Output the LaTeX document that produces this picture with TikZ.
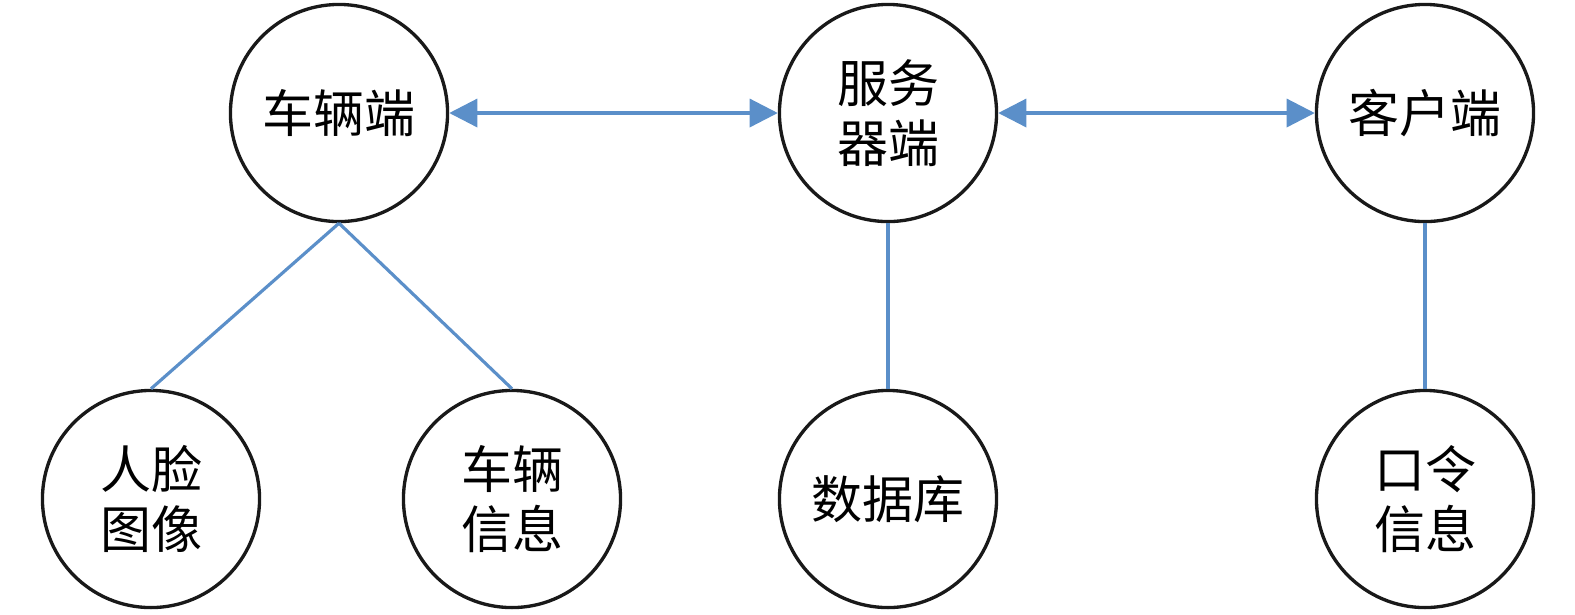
\documentclass[tikz,border=0pt]{standalone}
\usepackage{fontspec}
\newfontfamily\cjk{Noto Sans CJK SC}
\usetikzlibrary{arrows.meta}
\definecolor{linkblue}{RGB}{91,143,201}

\begin{document}
\begin{tikzpicture}[x=0.01cm,y=-0.01cm]
        \tikzset{unit/.style={circle,draw=black!90,line width=0.95pt,minimum size=2.17cm,inner sep=0pt,align=center,font=\cjk\fontsize{14.5pt}{17pt}\selectfont}}
        \tikzset{link/.style={draw=linkblue,line width=0.9pt}}
        \useasboundingbox (0,0) rectangle (1575,614);

        % top row
        \node[unit] (car) at (339,113) {车辆端};
        \node[unit] (server) at (888,113) {服务\\器端};
        \node[unit] (client) at (1425,113) {客户端};

        % bottom row
        \node[unit] (face) at (151,499) {人脸\\图像};
        \node[unit] (carinfo) at (512,499) {车辆\\信息};
        \node[unit] (db) at (888,499) {数据库};
        \node[unit] (pass) at (1425,499) {口令\\信息};

        \draw[link,{Triangle[length=8pt,width=8pt]}-{Triangle[length=8pt,width=8pt]}] (car) -- (server);
        \draw[link,{Triangle[length=8pt,width=8pt]}-{Triangle[length=8pt,width=8pt]}] (server) -- (client);

        \draw[link] (car.south) -- (face.north);
        \draw[link] (car.south) -- (carinfo.north);
        \draw[link] (server.south) -- (db.north);
        \draw[link] (client.south) -- (pass.north);
    \end{tikzpicture}
\end{document}
